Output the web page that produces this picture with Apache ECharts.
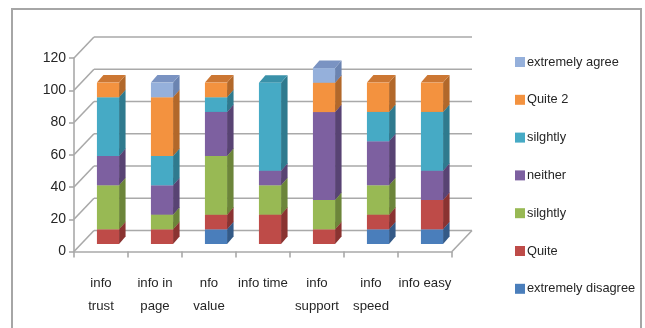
<!DOCTYPE html>
<html>
<head>
<meta charset="utf-8">
<script src="https://cdn.jsdelivr.net/npm/echarts@6/dist/echarts.min.js"></script>
<style>
  html, body { margin: 0; padding: 0; background: #ffffff; }
  #chart { width: 645px; height: 328px; }
</style>
</head>
<body>
<div id="chart"></div>
<script>
// Survey answers per question, as percentages of respondents
const categories = ['info\ntrust', 'info in\npage', 'nfo\nvalue', 'info time', 'info\nsupport', 'info\nspeed', 'info easy'];
const yTicks = [0, 20, 40, 60, 80, 100, 120];

const extremelyDisagree = [0, 0, 9.1, 0, 0, 9.1, 9.1];
const quite            = [9.1, 9.1, 9.1, 18.2, 9.1, 9.1, 18.2];
const slightlyLow      = [27.3, 9.1, 36.4, 18.2, 18.2, 18.2, 0];
const neither          = [18.2, 18.2, 27.3, 9.1, 54.5, 27.3, 18.2];
const slightlyHigh     = [36.4, 18.2, 9.1, 54.5, 0, 18.2, 36.4];
const quite2           = [9.1, 36.4, 9.1, 0, 18.2, 18.2, 18.2];
const extremelyAgree   = [0, 9.1, 0, 0, 9.1, 0, 0];

// Stack order, bottom to top: key, legend text, values, front / side / top face colours
const layers = [
  { key: 'xd', label: 'extremely disagree', values: extremelyDisagree, color: '#4a7ebb', side: '#345a87', top: '#3f6ca2' },
  { key: 'q1', label: 'Quite',              values: quite,             color: '#be4b48', side: '#8a3331', top: '#a23f3c' },
  { key: 's1', label: 'silghtly',           values: slightlyLow,       color: '#98b954', side: '#6c853a', top: '#819e47' },
  { key: 'ne', label: 'neither',            values: neither,           color: '#7d60a0', side: '#584373', top: '#6a5189' },
  { key: 's2', label: 'silghtly',           values: slightlyHigh,      color: '#46aac5', side: '#2f7a8e', top: '#3a91a9' },
  { key: 'q2', label: 'Quite 2',            values: quite2,            color: '#f3923f', side: '#b2682a', top: '#cc7733' },
  { key: 'xa', label: 'extremely agree',    values: extremelyAgree,    color: '#95b0db', side: '#6b84b1', top: '#7a93c2' }
];

const FONT = "'Liberation Sans', Arial, sans-serif";
const TEXT = '#262626';
const LINE = '#a9a9a9';

const WALL = [20, -21];        // offset from the front floor edge to the back wall
const BAR_SHIFT = [7, -7.5];   // bar front faces sit a little behind the front edge
const BAR_DEPTH = [6.5, -7.5]; // depth of each column
const BAR_RATIO = 0.41;        // column width as a share of the category band

function wallRenderer(params, api) {
  const cs = params.coordSys;
  const v = api.value(1);
  const y = api.coord([0, v])[1];
  const left = cs.x, right = cs.x + cs.width;
  const style = { stroke: LINE, lineWidth: 1.6, fill: null };
  const children = [
    { type: 'line', shape: { x1: left + WALL[0], y1: y + WALL[1], x2: right + WALL[0], y2: y + WALL[1] }, style: style },
    { type: 'line', shape: { x1: left, y1: y, x2: left + WALL[0], y2: y + WALL[1] }, style: style }
  ];
  if (v === 0) {
    children.push({ type: 'line', shape: { x1: right, y1: y, x2: right + WALL[0], y2: y + WALL[1] }, style: style });
  }
  return { type: 'group', children: children };
}

function columnRenderer(layer, order) {
  return function (params, api) {
    const lo = api.value(1), hi = api.value(2);
    if (!(hi > lo)) return null;
    const cat = api.value(0);
    const a = api.coord([cat, lo]);
    const b = api.coord([cat, hi]);
    const w = api.size([1, 0])[0] * BAR_RATIO;
    const x0 = a[0] - w / 2 + BAR_SHIFT[0];
    const x1 = x0 + w;
    const yb = a[1] + BAR_SHIFT[1];
    const yt = b[1] + BAR_SHIFT[1];
    const dx = BAR_DEPTH[0], dy = BAR_DEPTH[1];
    const z = order * 10;
    return {
      type: 'group',
      children: [
        { type: 'polygon', z2: z, shape: { points: [[x1, yb], [x1 + dx, yb + dy], [x1 + dx, yt + dy], [x1, yt]] }, style: { fill: layer.side } },
        { type: 'polygon', z2: z + 1, shape: { points: [[x0, yt], [x1, yt], [x1 + dx, yt + dy], [x0 + dx, yt + dy]] }, style: { fill: layer.top } },
        { type: 'rect', z2: z + 2, shape: { x: x0, y: yt, width: w, height: yb - yt }, style: { fill: layer.color } }
      ]
    };
  };
}

// Running stack bases per category
const base = categories.map(() => 0);
const columnSeries = layers.map((layer, order) => {
  const data = layer.values.map((v, i) => {
    const item = [i, base[i], base[i] + v];
    base[i] += v;
    return item;
  });
  return {
    type: 'custom',
    name: layer.key,
    z: 3,
    itemStyle: { color: layer.color },
    encode: { x: 0, y: [1, 2] },
    renderItem: columnRenderer(layer, order),
    data: data
  };
});

const labelOf = {};
layers.forEach(l => { labelOf[l.key] = l.label; });

const chart = echarts.init(document.getElementById('chart'), null, { renderer: 'canvas' });
chart.setOption({
  backgroundColor: '#ffffff',
  animation: false,
  graphic: [{
    type: 'rect',
    shape: { x: 12, y: 9, width: 629, height: 340 },
    style: { fill: null, stroke: '#a6a6a6', lineWidth: 2 },
    silent: true
  }],
  grid: { left: 74, top: 58, width: 378, height: 193.5, containLabel: false },
  xAxis: {
    type: 'category',
    data: categories,
    boundaryGap: true,
    axisLine: { show: true, lineStyle: { color: LINE, width: 1.6 } },
    axisTick: { show: true, length: 6, lineStyle: { color: LINE, width: 1.6 } },
    axisLabel: { interval: 0, color: TEXT, fontFamily: FONT, fontSize: 13.2, lineHeight: 23, margin: 20 },
    splitLine: { show: false }
  },
  yAxis: {
    type: 'value',
    min: 0, max: 120, interval: 20,
    axisLine: { show: true, lineStyle: { color: LINE, width: 1.6 } },
    axisTick: { show: true, length: 5, lineStyle: { color: LINE, width: 1.6 } },
    axisLabel: { color: TEXT, fontFamily: FONT, fontSize: 14, margin: 8 },
    splitLine: { show: false }
  },
  legend: {
    orient: 'vertical',
    left: 515, top: 54,
    padding: 0,
    icon: 'rect',
    itemWidth: 10, itemHeight: 10,
    itemGap: 21.8,
    data: layers.map(l => l.key).reverse(),
    formatter: name => labelOf[name],
    textStyle: { color: TEXT, fontFamily: FONT, fontSize: 12.8, lineHeight: 16, padding: [0, 0, 0, -3] },
    selectedMode: false
  },
  series: [{
    type: 'custom',
    name: 'walls',
    z: 1,
    silent: true,
    encode: { x: 0, y: 1 },
    renderItem: wallRenderer,
    data: yTicks.map(v => [0, v])
  }].concat(columnSeries)
});
</script>
</body>
</html>
